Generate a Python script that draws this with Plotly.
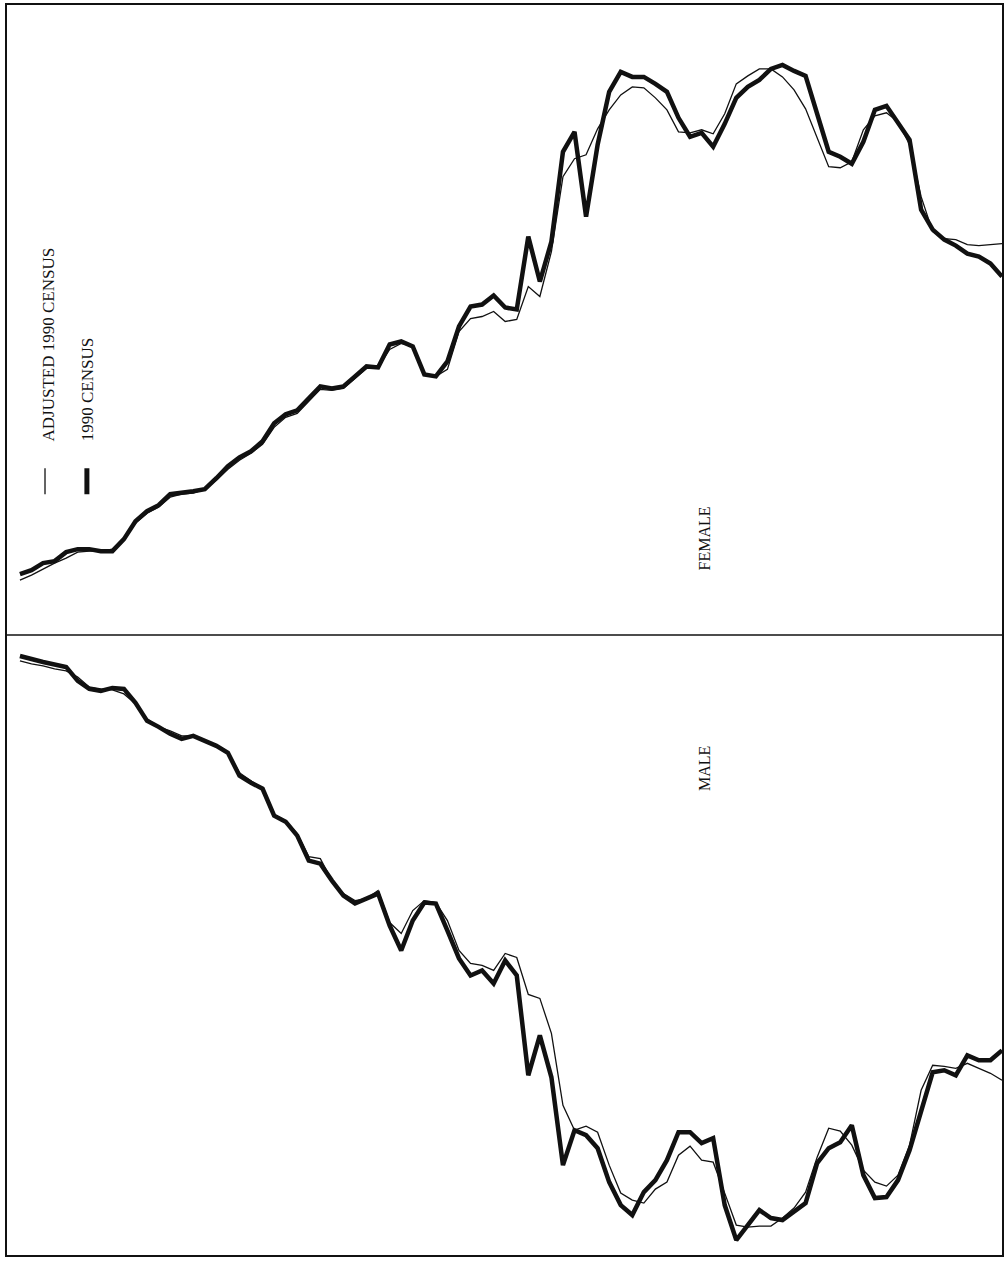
import plotly.graph_objects as go

# Single years of age (0 = youngest at right edge, 85 = oldest at left)
ages = list(range(86))

# Population in thousands
female_census = [1436, 1488, 1516, 1528, 1560, 1584, 1624, 1704, 1984, 2056,
                 2120, 2104, 1976, 1888, 1916, 1936, 2096, 2240, 2260, 2284,
                 2268, 2224, 2196, 2152, 2048, 1956, 2012, 1996, 2072, 2176,
                 2208, 2236, 2236, 2256, 2176, 1964, 1676, 2016, 1936, 1576,
                 1416, 1596, 1304, 1312, 1360, 1324, 1316, 1236, 1096, 1036,
                 1044, 1156, 1176, 1164, 1072, 1076, 1036, 996, 988, 996,
                 948, 900, 884, 848, 776, 736, 712, 676, 628, 584,
                 576, 572, 564, 520, 496, 456, 384, 336, 336, 344,
                 344, 332, 296, 288, 260, 244]

female_adjusted = [1568, 1564, 1560, 1564, 1584, 1588, 1616, 1756, 1964, 2056,
                   2092, 2080, 2024, 1896, 1872, 1876, 1996, 2108, 2184, 2236,
                   2268, 2268, 2240, 2208, 2088, 2008, 2024, 2012, 2016, 2104,
                   2152, 2192, 2196, 2164, 2104, 2028, 1924, 1908, 1836, 1536,
                   1356, 1396, 1264, 1256, 1296, 1276, 1268, 1216, 1064, 1036,
                   1044, 1156, 1168, 1144, 1072, 1068, 1028, 988, 980, 984,
                   936, 888, 872, 832, 764, 728, 700, 664, 620, 584,
                   568, 564, 552, 512, 488, 448, 388, 344, 336, 336,
                   332, 308, 288, 264, 240, 220]

male_census = [1664, 1704, 1704, 1684, 1764, 1744, 1752, 1904, 2064, 2184,
               2252, 2256, 2164, 1964, 2032, 2056, 2116, 2276, 2312, 2344,
               2336, 2304, 2364, 2424, 2284, 2016, 2036, 1992, 1992, 2104,
               2184, 2232, 2324, 2284, 2192, 2056, 2004, 1984, 2124, 1772,
               1604, 1764, 1364, 1304, 1396, 1344, 1364, 1296, 1184, 1076,
               1072, 1144, 1264, 1164, 1036, 1056, 1076, 1044, 984, 916,
               904, 804, 748, 724, 616, 592, 564, 472, 444, 424,
               404, 416, 396, 368, 344, 272, 216, 212, 224, 216,
               184, 128, 120, 108, 96, 84]

male_adjusted = [1784, 1756, 1736, 1716, 1736, 1728, 1724, 1824, 2044, 2164,
                 2208, 2192, 2144, 2044, 1988, 1976, 2092, 2232, 2296, 2336,
                 2368, 2368, 2372, 2364, 2236, 2112, 2104, 2048, 2084, 2192,
                 2220, 2276, 2264, 2236, 2124, 1992, 1968, 1984, 1884, 1596,
                 1456, 1440, 1292, 1276, 1344, 1324, 1316, 1264, 1144, 1072,
                 1064, 1104, 1196, 1152, 1024, 1056, 1064, 1036, 984, 896,
                 888, 796, 744, 720, 616, 584, 552, 472, 444, 424,
                 404, 404, 384, 368, 336, 276, 236, 220, 216, 208,
                 168, 144, 136, 124, 116, 104]

legend_labels = ["ADJUSTED 1990 CENSUS", "1990 CENSUS"]
panel_labels = ["FEMALE", "MALE"]

INK = "#111111"
SERIF = "Liberation Serif, Times New Roman, serif"

fig = go.Figure()

fig.add_trace(go.Scatter(x=ages, y=female_census, mode="lines",
                         line=dict(color=INK, width=4.5), showlegend=False))
fig.add_trace(go.Scatter(x=ages, y=[-v for v in male_census], mode="lines",
                         line=dict(color=INK, width=4.5), showlegend=False))
fig.add_trace(go.Scatter(x=ages, y=female_adjusted, mode="lines",
                         line=dict(color=INK, width=1.3), showlegend=False))
fig.add_trace(go.Scatter(x=ages, y=[-v for v in male_adjusted], mode="lines",
                         line=dict(color=INK, width=1.3), showlegend=False))

# divider between the female and male panels
fig.add_shape(type="line", xref="paper", yref="y", x0=0, x1=1, y0=0, y1=0,
              line=dict(color=INK, width=1.6))

# legend keys
fig.add_shape(type="line", xref="paper", yref="paper", x0=0.0382, x1=0.0382,
              y0=0.6086, y1=0.6294, line=dict(color=INK, width=1.3))
fig.add_shape(type="line", xref="paper", yref="paper", x0=0.0803, x1=0.0803,
              y0=0.6086, y1=0.6294, line=dict(color=INK, width=5))

fig.add_annotation(text=legend_labels[0], xref="paper", yref="paper",
                   x=0.0422, y=0.7284, textangle=-90, showarrow=False,
                   xanchor="center", yanchor="middle",
                   font=dict(family=SERIF, size=17, color=INK))
fig.add_annotation(text=legend_labels[1], xref="paper", yref="paper",
                   x=0.0803, y=0.6925, textangle=-90, showarrow=False,
                   xanchor="center", yanchor="middle",
                   font=dict(family=SERIF, size=17, color=INK))

fig.add_annotation(text=panel_labels[0], xref="paper", yref="paper",
                   x=0.7008, y=0.5735, textangle=-90, showarrow=False,
                   xanchor="center", yanchor="middle",
                   font=dict(family=SERIF, size=16, color=INK))
fig.add_annotation(text=panel_labels[1], xref="paper", yref="paper",
                   x=0.7008, y=0.3890, textangle=-90, showarrow=False,
                   xanchor="center", yanchor="middle",
                   font=dict(family=SERIF, size=16, color=INK))

fig.update_xaxes(range=[86.12, 0], showgrid=False, zeroline=False,
                 showticklabels=False, ticks="", showline=True, mirror=True,
                 linecolor=INK, linewidth=1.6)
fig.update_yaxes(range=[-2484, 2524], showgrid=False, zeroline=False,
                 showticklabels=False, ticks="", showline=True, mirror=True,
                 linecolor=INK, linewidth=1.6)

fig.update_layout(width=1007, height=1263,
                  margin=dict(l=7, r=4, t=3, b=8, pad=0),
                  paper_bgcolor="white", plot_bgcolor="white",
                  showlegend=False)

fig.write_html("out.html", config={"displayModeBar": False},
               post_script="document.body.style.margin='0';")
